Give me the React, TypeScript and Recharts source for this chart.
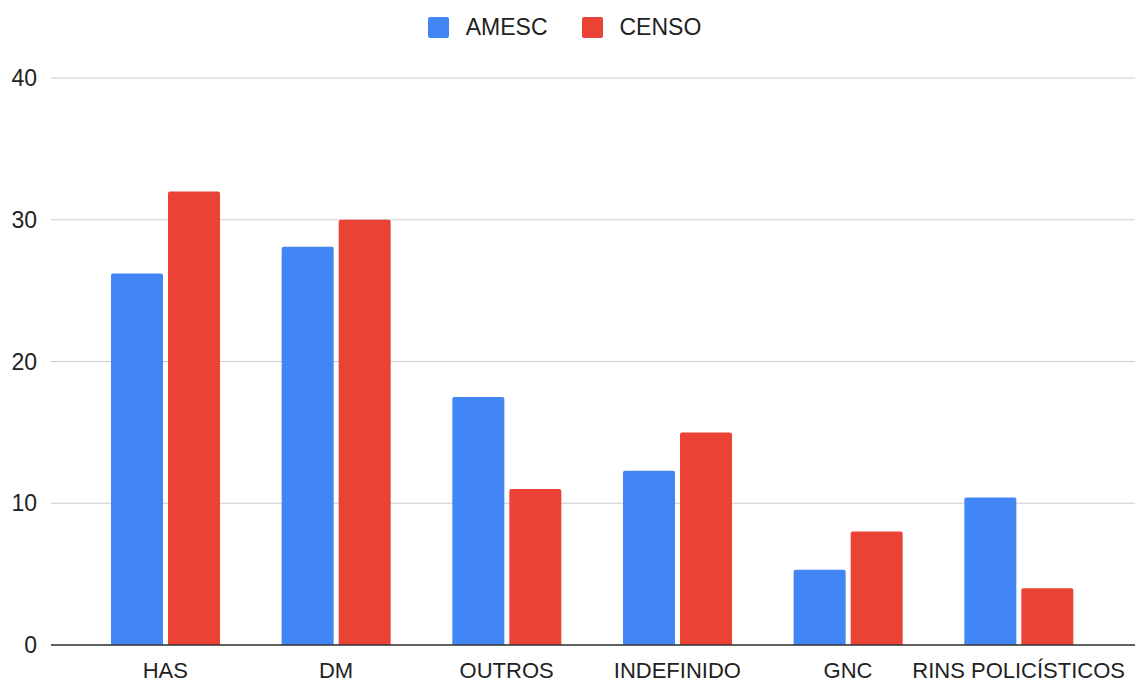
import React from 'react';
import { BarChart, Bar, XAxis, YAxis, CartesianGrid } from 'recharts';

const categories = ['HAS', 'DM', 'OUTROS', 'INDEFINIDO', 'GNC', 'RINS POLICÍSTICOS'];
const amesc = [26.2, 28.1, 17.5, 12.3, 5.3, 10.4];
const censo = [32, 30, 11, 15, 8, 4];
const yTicks = [0, 10, 20, 30, 40];

const BLUE = '#4285F4';
const RED = '#EA4335';
const FONT = 'Arial, "Liberation Sans", sans-serif';

const data = categories.map((name, i) => ({ name, AMESC: amesc[i], CENSO: censo[i] }));

// legend drawn as plain html above the chart
const TopLegend = () => (
  <div
    style={{
      position: 'absolute',
      top: 14,
      left: 0,
      width: 1129,
      display: 'flex',
      justifyContent: 'center',
      alignItems: 'center',
      fontFamily: FONT,
      fontSize: 23,
      color: '#222',
    }}
  >
    <span style={{ display: 'inline-block', width: 21, height: 21, background: BLUE, borderRadius: 2, marginRight: 17 }} />
    <span style={{ marginRight: 34 }}>AMESC</span>
    <span style={{ display: 'inline-block', width: 21, height: 21, background: RED, borderRadius: 2, marginRight: 17 }} />
    <span>CENSO</span>
  </div>
);

export default function App() {
  return (
    <div style={{ position: 'absolute', left: 0, top: 0, width: 1137, height: 683, background: '#fff' }}>
      <TopLegend />
      <BarChart
        width={1137}
        height={683}
        data={data}
        margin={{ top: 78, right: 2, left: 0, bottom: 0 }}
        barSize={52}
        barGap={5}
      >
        <CartesianGrid vertical={false} stroke="#cccccc" />
        <XAxis
          dataKey="name"
          height={38}
          padding={{ left: 29, right: 31 }}
          axisLine={{ stroke: '#333333', strokeWidth: 1.5 }}
          tickLine={false}
          tickMargin={11}
          interval={0}
          tick={{ fontSize: 22, fill: '#222', fontFamily: FONT }}
        />
        <YAxis
          width={51}
          domain={[0, 40]}
          ticks={yTicks}
          axisLine={false}
          tickLine={false}
          tickMargin={8}
          tick={{ fontSize: 23, fill: '#222', fontFamily: FONT }}
        />
        <Bar dataKey="AMESC" fill={BLUE} radius={[2, 2, 0, 0]} isAnimationActive={false} />
        <Bar dataKey="CENSO" fill={RED} radius={[2, 2, 0, 0]} isAnimationActive={false} />
      </BarChart>
    </div>
  );
}
